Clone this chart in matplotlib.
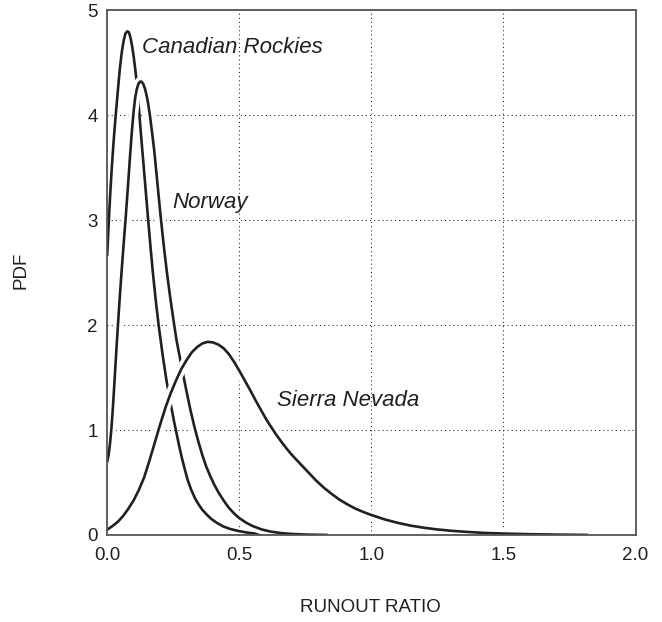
import matplotlib
matplotlib.use("Agg")
import matplotlib.pyplot as plt
import matplotlib.patheffects as pe

# curves (runout ratio vs pdf)
canadian_x = [0.0, 0.006, 0.012, 0.018, 0.025, 0.032, 0.04, 0.048, 0.055, 0.062, 0.069,
              0.076, 0.082, 0.088, 0.094, 0.1, 0.106, 0.111, 0.116, 0.12, 0.127, 0.135,
              0.145, 0.155, 0.164, 0.172, 0.183, 0.195, 0.21, 0.225, 0.235, 0.244, 0.253,
              0.263, 0.273, 0.283, 0.294, 0.305, 0.318, 0.332, 0.346, 0.36, 0.378, 0.395,
              0.415, 0.44, 0.465, 0.496, 0.53, 0.56, 0.6, 0.65, 0.73, 0.83]
canadian_y = [2.67, 3.0, 3.28, 3.53, 3.78, 4.0, 4.23, 4.45, 4.6, 4.71, 4.78,
              4.8, 4.79, 4.74, 4.66, 4.56, 4.44, 4.33, 4.19, 4.06, 3.84, 3.6,
              3.3, 3.0, 2.74, 2.52, 2.25, 1.99, 1.71, 1.46, 1.32, 1.2, 1.08,
              0.96, 0.84, 0.73, 0.62, 0.52, 0.43, 0.35, 0.29, 0.24, 0.19, 0.15,
              0.115, 0.08, 0.057, 0.038, 0.022, 0.013, 0.007, 0.003, 0.001, 0.0]

norway_x = [0.0, 0.005, 0.01, 0.015, 0.02, 0.025, 0.03, 0.035, 0.04, 0.047, 0.054, 0.062,
            0.07, 0.078, 0.086, 0.093, 0.1, 0.106, 0.112, 0.118, 0.124, 0.13, 0.136,
            0.142, 0.148, 0.155, 0.162, 0.17, 0.178, 0.187, 0.195, 0.202, 0.213, 0.225,
            0.238, 0.25, 0.262, 0.275, 0.288, 0.3, 0.315, 0.33, 0.345, 0.36, 0.375,
            0.39, 0.405, 0.42, 0.44, 0.46, 0.48, 0.5, 0.525, 0.55, 0.585, 0.62, 0.66,
            0.7, 0.76, 0.83]
norway_y = [0.70, 0.76, 0.86, 0.99, 1.16, 1.36, 1.57, 1.78, 1.98, 2.25, 2.5, 2.77,
            3.03, 3.31, 3.6, 3.84, 4.04, 4.17, 4.25, 4.3, 4.32, 4.32, 4.3,
            4.26, 4.2, 4.11, 3.99, 3.83, 3.66, 3.43, 3.22, 3.04, 2.78, 2.52,
            2.27, 2.06, 1.86, 1.69, 1.52, 1.37, 1.19, 1.03, 0.89, 0.76, 0.65,
            0.56, 0.48, 0.41, 0.33, 0.26, 0.205, 0.16, 0.118, 0.085, 0.052, 0.031, 0.017,
            0.009, 0.003, 0.0]

sierra_x = [0.0, 0.02, 0.04, 0.06, 0.08, 0.1, 0.12, 0.14, 0.16, 0.18, 0.2, 0.22, 0.24,
            0.26, 0.28, 0.3, 0.32, 0.34, 0.36, 0.38, 0.4, 0.42, 0.44, 0.46, 0.48, 0.5,
            0.52, 0.54, 0.56, 0.58, 0.6, 0.62, 0.64, 0.66, 0.68, 0.7, 0.73, 0.76, 0.79,
            0.82, 0.85, 0.88, 0.91, 0.94, 0.97, 1.0, 1.05, 1.1, 1.15, 1.2, 1.25, 1.3,
            1.36, 1.43, 1.5, 1.6, 1.7, 1.816]
sierra_y = [0.05, 0.085, 0.125, 0.18, 0.25, 0.33, 0.43, 0.55, 0.71, 0.88, 1.05, 1.21, 1.35,
            1.47, 1.58, 1.665, 1.74, 1.79, 1.825, 1.84, 1.835, 1.815, 1.78, 1.725, 1.65, 1.565,
            1.475, 1.385, 1.29, 1.2, 1.11, 1.03, 0.955, 0.885, 0.82, 0.76, 0.68, 0.6, 0.52,
            0.45, 0.39, 0.335, 0.29, 0.25, 0.218, 0.19, 0.148, 0.115, 0.088, 0.068, 0.052, 0.04,
            0.029, 0.019, 0.013, 0.007, 0.003, 0.0]

xticks = [0.0, 0.5, 1.0, 1.5, 2.0]
yticks = [0, 1, 2, 3, 4, 5]

ink = "#231f20"
sans = ["Liberation Sans", "DejaVu Sans"]

fig = plt.figure(figsize=(6.62, 6.22), dpi=100)
ax = fig.add_axes([0.162, 0.14, 0.798, 0.8434])

# white halo so the upper curve breaks the one it crosses
halo = [pe.Stroke(linewidth=7, foreground="white"), pe.Normal()]
ax.plot(canadian_x, canadian_y, color=ink, lw=1.9, zorder=3)
ax.plot(norway_x, norway_y, color=ink, lw=1.9, zorder=4, path_effects=halo)
ax.plot(sierra_x, sierra_y, color=ink, lw=1.9, zorder=5, path_effects=halo)

ax.set_xlim(0, 2)
ax.set_ylim(0, 5)
ax.set_xticks(xticks)
ax.set_yticks(yticks)
ax.set_xticklabels(["%.1f" % v for v in xticks], family=sans, fontsize=13.5, color=ink)
ax.set_yticklabels([str(v) for v in yticks], family=sans, fontsize=13.5, color=ink)
ax.tick_params(length=0)
ax.tick_params(axis="x", pad=9)
ax.tick_params(axis="y", pad=7)
ax.grid(True, color=ink, lw=0.75, linestyle=(0, (1, 3)))
for s in ax.spines.values():
    s.set_color("#555555")
    s.set_linewidth(1.3)
    s.set_zorder(10)  # keep the frame above the halos

ax.text(0.13, 4.65, "Canadian Rockies", style="italic", family=sans, fontsize=16,
        color=ink, va="center")
ax.text(0.248, 3.17, "Norway", style="italic", family=sans, fontsize=16,
        color=ink, va="center")
ax.text(0.644, 1.28, "Sierra Nevada", style="italic", family=sans, fontsize=16,
        color=ink, va="center")

fig.text(20.7 / 662, 1 - 270 / 622, "PDF", rotation=90, family=sans, fontsize=13.5,
         color=ink, ha="center", va="center")
fig.text(370 / 662, 1 - 607 / 622, "RUNOUT RATIO", family=sans, fontsize=13.5,
         color=ink, ha="center", va="center")

fig.savefig("out.png", dpi=100)
